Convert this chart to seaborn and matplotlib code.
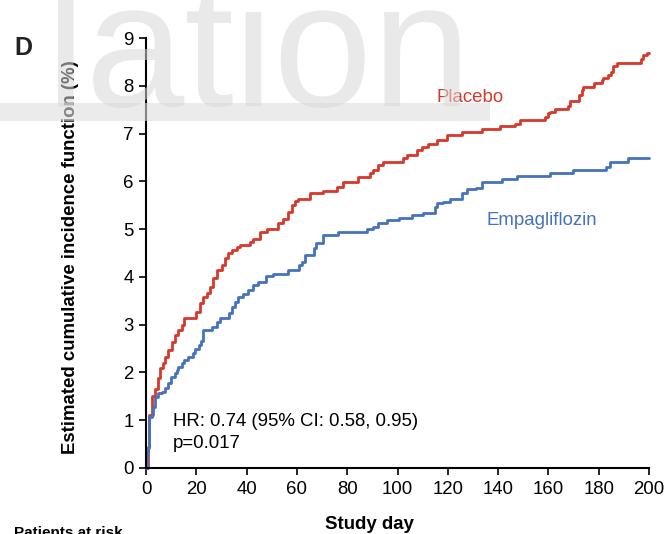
import matplotlib
matplotlib.use("Agg")
import matplotlib.pyplot as plt
import seaborn as sns
import pandas as pd
from matplotlib.patches import Rectangle

# step points (study day, cumulative incidence %)
placebo_days = [0, 0.6, 1.2, 2.4, 3.6, 4.6, 5.6, 6.6, 7.6, 8.9, 10.2, 11.5, 12.8, 14.2, 15.3,
                19.8, 21.3, 22.7, 24.1, 25.4, 26.8, 28.1, 30.1, 31.4, 32.7, 34.1, 36.1, 37.4,
                41.4, 42.7, 45.3, 48.0, 52.6, 54.6, 56.6, 57.9, 59.2, 60.6, 65.3, 70.5, 75.8,
                78.2, 84.3, 89.1, 90.4, 92.4, 94.4, 102.3, 103.7, 107.6, 109.6, 112.3, 115.6,
                119.6, 125.5, 133.5, 140.8, 146.7, 148.7, 158.6, 160.0, 160.6, 162.6, 167.9,
                168.6, 172.3, 173.2, 173.9, 178.3, 181.2, 181.8, 183.8, 184.8, 185.8, 187.4,
                196.8, 197.7, 199.3, 200.0]
placebo_vals = [0, 0.42, 1.10, 1.50, 1.65, 1.88, 2.09, 2.19, 2.33, 2.47, 2.64, 2.78, 2.89, 3.00, 3.14,
                3.27, 3.45, 3.58, 3.66, 3.79, 3.97, 4.14, 4.25, 4.39, 4.50, 4.56, 4.63, 4.67,
                4.73, 4.80, 4.94, 5.01, 5.12, 5.22, 5.36, 5.50, 5.58, 5.64, 5.75, 5.80, 5.89,
                5.99, 6.10, 6.17, 6.24, 6.34, 6.41, 6.48, 6.55, 6.65, 6.72, 6.79, 6.86,
                6.97, 7.04, 7.09, 7.15, 7.21, 7.28, 7.34, 7.42, 7.46, 7.51, 7.57,
                7.68, 7.80, 7.92, 7.98, 8.06, 8.12, 8.17, 8.22, 8.29, 8.41, 8.47,
                8.57, 8.64, 8.69, 8.69]

empa_days = [0, 0.3, 0.9, 1.3, 2.3, 2.7, 3.6, 4.9, 6.2, 7.6, 8.9, 9.8, 11.5, 12.2, 12.8, 14.2,
             15.0, 16.8, 18.8, 19.5, 20.9, 21.8, 22.6, 26.1, 28.1, 29.4, 33.1, 34.1, 35.4, 36.7,
             38.7, 40.7, 42.7, 44.7, 47.7, 50.6, 56.6, 60.8, 61.9, 63.2, 66.8, 67.6, 70.5, 76.5,
             87.7, 90.4, 92.4, 95.7, 100.5, 105.6, 110.3, 114.9, 115.6, 118.2, 120.9, 125.5,
             127.5, 131.4, 133.5, 141.4, 147.4, 160.6, 169.6, 182.9, 184.5, 191.8, 200.0]
empa_vals = [0, 0.31, 0.45, 1.07, 1.11, 1.28, 1.49, 1.56, 1.60, 1.67, 1.77, 1.90, 1.98, 2.05, 2.12, 2.19,
             2.26, 2.33, 2.40, 2.50, 2.57, 2.66, 2.89, 2.96, 3.06, 3.13, 3.24, 3.37, 3.48, 3.58,
             3.65, 3.72, 3.83, 3.90, 4.02, 4.06, 4.14, 4.25, 4.32, 4.46, 4.60, 4.70, 4.87, 4.93,
             5.00, 5.05, 5.12, 5.19, 5.24, 5.29, 5.34, 5.47, 5.54, 5.57, 5.64, 5.75,
             5.83, 5.87, 5.99, 6.05, 6.11, 6.18, 6.24, 6.31, 6.41, 6.48, 6.48]

x_ticks = [0, 20, 40, 60, 80, 100, 120, 140, 160, 180, 200]
y_ticks = [0, 1, 2, 3, 4, 5, 6, 7, 8, 9]

red = "#d6392b"
blue = "#4572bd"

df = pd.concat([
    pd.DataFrame({"day": placebo_days, "cif": placebo_vals, "arm": "Placebo"}),
    pd.DataFrame({"day": empa_days, "cif": empa_vals, "arm": "Empagliflozin"}),
])

sns.set_theme(style="ticks")
plt.rcParams["font.family"] = ["Liberation Sans", "DejaVu Sans"]

fig = plt.figure(figsize=(6.67, 5.34), dpi=100)
ax = fig.add_axes([146 / 667, 66 / 534, 503 / 667, 430 / 534])
ax.patch.set_alpha(0)

sns.lineplot(data=df, x="day", y="cif", hue="arm", palette={"Placebo": red, "Empagliflozin": blue},
             drawstyle="steps-post", linewidth=2.0, legend=False, ax=ax, clip_on=False)

ax.set_xlim(0, 200)
ax.set_ylim(0, 9)
ax.set_xticks(x_ticks)
ax.set_yticks(y_ticks)
ax.tick_params(labelsize=13.4, length=5, width=1.2, color="black", labelcolor="black", pad=4)
for s in ["top", "right"]:
    ax.spines[s].set_visible(False)
for s in ["left", "bottom"]:
    ax.spines[s].set_linewidth(1.5)
    ax.spines[s].set_color("black")

ax.set_xlabel("Study day", fontsize=13.4, fontweight="bold", color="black")
ax.set_ylabel("Estimated cumulative incidence function (%)", fontsize=13.4, fontweight="bold", color="black")
ax.xaxis.set_label_coords(0.445, -0.112)
ax.yaxis.set_label_coords(-0.133, 0.49)

ax.text(115.7, 7.76, "Placebo", color=red, fontsize=13.4, va="center", ha="left")
ax.text(135.2, 5.19, "Empagliflozin", color=blue, fontsize=13.4, va="center", ha="left")
ax.text(10.7, 0.97, "HR: 0.74 (95% CI: 0.58, 0.95)", fontsize=13.4, va="center", ha="left", color="black")
ax.text(10.7, 0.52, "p=0.017", fontsize=13.4, va="center", ha="left", color="black")

fig.text(14 / 667, 1 - 48 / 534, "D", fontsize=18, fontweight="bold", va="center", ha="left", color="#222222")
fig.text(14 / 667, 8 / 534, "Patients at risk", fontsize=11, fontweight="bold", va="top", ha="left",
         color="black")

# faded slide watermark over the top of the panel
fig.text(46 / 667, 1 - 106 / 534, "lation", fontsize=128, color="#d8d8d8", alpha=0.55,
         va="baseline", ha="left", zorder=5)
fig.patches.append(Rectangle((0, 1 - 121 / 534), 490 / 667, 18 / 534, transform=fig.transFigure,
                             facecolor="#dedede", alpha=0.6, edgecolor="none", zorder=5))

fig.savefig("out.png", dpi=100)
